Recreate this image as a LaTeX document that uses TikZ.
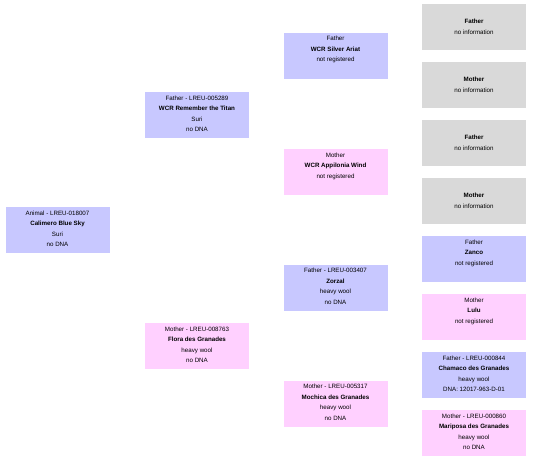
\documentclass[tikz,border=0pt]{standalone}
\usepackage{fontspec}
\setmainfont{Liberation Sans}
\definecolor{sireblue}{RGB}{200,200,255}
\definecolor{dampink}{RGB}{255,208,255}
\definecolor{nogray}{RGB}{217,217,217}
\begin{document}
\begin{tikzpicture}[x=1pt,y=-1pt,
  card/.style={draw=none, minimum width=104pt, minimum height=46pt, inner sep=0pt},
  sirebox/.style={card, fill=sireblue},
  dambox/.style={card, fill=dampink},
  unkbox/.style={card, fill=nogray, align=center, font=\fontsize{6.2}{10.6}\selectfont},
  info/.style={anchor=north, align=center, inner sep=0pt, font=\fontsize{6.2}{10.6}\selectfont},
  ]
\useasboundingbox (0,0) rectangle (540,464);

% generation 1
\node[sirebox] (a) at (57.5,230) {};
\node[info] (ta) at ([yshift=-3.6pt]a.north) {Animal - LREU-018007\\\textbf{Calimero Blue Sky}\\Suri\\no DNA};

% generation 2
\node[sirebox] (f) at (197,115) {};
\node[info] (tf) at ([yshift=-3.6pt]f.north) {Father - LREU-005289\\\textbf{WCR Remember the Titan}\\Suri\\no DNA};
\node[dambox] (m) at (197,346) {};
\node[info] (tm) at ([yshift=-3.6pt]m.north) {Mother - LREU-008763\\\textbf{Flora des Granades}\\heavy wool\\no DNA};

% generation 3
\node[sirebox] (ff) at (335.5,55.5) {};
\node[info] (tff) at ([yshift=-3.6pt]ff.north) {Father\\\textbf{WCR Silver Ariat}\\not registered};
\node[dambox] (fm) at (335.5,172) {};
\node[info] (tfm) at ([yshift=-3.6pt]fm.north) {Mother\\\textbf{WCR Appilonia Wind}\\not registered};
\node[sirebox] (mf) at (335.5,287.5) {};
\node[info] (tmf) at ([yshift=-3.6pt]mf.north) {Father - LREU-003407\\\textbf{Zorzal}\\heavy wool\\no DNA};
\node[dambox] (mm) at (335.5,403.5) {};
\node[info] (tmm) at ([yshift=-3.6pt]mm.north) {Mother - LREU-005317\\\textbf{Mochica des Granades}\\heavy wool\\no DNA};

% generation 4
\node[unkbox] (fff) at (474,27) {\textbf{Father}\\no information};
\node[unkbox] (ffm) at (474,85) {\textbf{Mother}\\no information};
\node[unkbox] (fmf) at (474,143) {\textbf{Father}\\no information};
\node[unkbox] (fmm) at (474,201) {\textbf{Mother}\\no information};
\node[sirebox] (mff) at (474,259) {};
\node[info] (tmff) at ([yshift=-3.6pt]mff.north) {Father\\\textbf{Zanco}\\not registered};
\node[dambox] (mfm) at (474,317) {};
\node[info] (tmfm) at ([yshift=-3.6pt]mfm.north) {Mother\\\textbf{Lulu}\\not registered};
\node[sirebox] (mmf) at (474,375) {};
\node[info] (tmmf) at ([yshift=-3.6pt]mmf.north) {Father - LREU-000844\\\textbf{Chamaco des Granades}\\heavy wool\\DNA: 12017-963-D-01};
\node[dambox] (mmm) at (474,433) {};
\node[info] (tmmm) at ([yshift=-3.6pt]mmm.north) {Mother - LREU-000860\\\textbf{Mariposa des Granades}\\heavy wool\\no DNA};
\end{tikzpicture}
\end{document}
